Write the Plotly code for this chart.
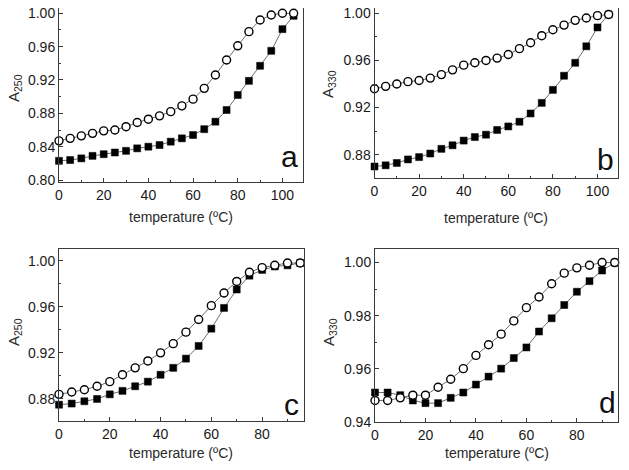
import plotly.graph_objects as go

# ---------------- data ----------------
temp_ab = [0, 5, 10, 15, 20, 25, 30, 35, 40, 45, 50, 55, 60, 65, 70, 75, 80, 85, 90, 95, 100, 105]
a_open = [0.847, 0.850, 0.853, 0.856, 0.859, 0.860, 0.864, 0.869, 0.873, 0.877, 0.882, 0.889,
          0.897, 0.910, 0.926, 0.944, 0.961, 0.978, 0.992, 0.998, 1.000, 1.000]
a_fill = [0.823, 0.824, 0.826, 0.829, 0.831, 0.833, 0.835, 0.838, 0.840, 0.842, 0.846, 0.850,
          0.854, 0.861, 0.870, 0.884, 0.902, 0.919, 0.937, 0.955, 0.981, 0.997]
b_open = [0.936, 0.938, 0.940, 0.942, 0.943, 0.945, 0.948, 0.952, 0.956, 0.958, 0.960, 0.962,
          0.965, 0.970, 0.975, 0.981, 0.986, 0.990, 0.994, 0.996, 0.998, 0.999]
b_fill = [0.870, 0.871, 0.873, 0.876, 0.878, 0.881, 0.885, 0.888, 0.892, 0.895, 0.897, 0.901,
          0.904, 0.908, 0.915, 0.924, 0.935, 0.947, 0.958, 0.972, 0.988, 0.999]

temp_cd = [0, 5, 10, 15, 20, 25, 30, 35, 40, 45, 50, 55, 60, 65, 70, 75, 80, 85, 90, 95]
c_open = [0.884, 0.886, 0.888, 0.891, 0.895, 0.901, 0.907, 0.913, 0.920, 0.928, 0.938, 0.949,
          0.961, 0.972, 0.982, 0.990, 0.994, 0.996, 0.998, 0.998]
c_fill = [0.875, 0.876, 0.878, 0.880, 0.884, 0.887, 0.891, 0.895, 0.901, 0.907, 0.915, 0.926,
          0.941, 0.959, 0.975, 0.987, 0.992, 0.995, 0.996, 0.998]
d_open = [0.948, 0.948, 0.949, 0.950, 0.950, 0.953, 0.956, 0.960, 0.965, 0.969, 0.973, 0.978,
          0.983, 0.987, 0.992, 0.996, 0.998, 0.999, 1.000, 1.000]
d_fill = [0.951, 0.951, 0.950, 0.948, 0.947, 0.947, 0.949, 0.951, 0.954, 0.957, 0.960, 0.964,
          0.968, 0.974, 0.979, 0.984, 0.989, 0.993, 0.997, 1.000]

x_title = "temperature (ºC)"
y_titles = ["A<sub>250</sub>", "A<sub>330</sub>", "A<sub>250</sub>", "A<sub>330</sub>"]
panel_letters = ["a", "b", "c", "d"]

# ---------------- figure ----------------
OFF = 8                      # the page body margin around the plot div
W, H = 629 - OFF, 470 - OFF  # keep the figure inside the window
FONT = "Liberation Sans, Arial, sans-serif"


def px(v):
    """window x pixel -> paper fraction"""
    return (v - OFF) / W


def py(v):
    """window y pixel -> paper fraction (clamped)"""
    return min(max(1 - (v - OFF) / H, 0.0), 1.0)


# frames in window pixels: (left, right), (top, bottom); letter: (glyph right, baseline);
# xt: x-title centre y; yt: (y-title centre x, centre y)
panels = [
    dict(x=temp_ab, o=a_open, f=a_fill, xd=(59, 303), yd=(8.3, 181.7), xr=[0, 109.2],
         yr=[0.798, 1.006], ydt=0.04, xdt=20, let=(297, 165), xt=217, yt=(14, 88)),
    dict(x=temp_ab, o=b_open, f=b_fill, xd=(374.5, 618), yd=(8.0, 177.7), xr=[0, 109.2],
         yr=[0.8605, 1.0045], ydt=0.04, xdt=20, let=(613, 168), xt=217.5, yt=(329, 84)),
    dict(x=temp_cd, o=c_open, f=c_fill, xd=(59, 303.5), yd=(249.3, 421.3), xr=[0, 96.3],
         yr=[0.8606, 1.0099], ydt=0.04, xdt=20, let=(298, 413), xt=453, yt=(14, 332)),
    dict(x=temp_cd, o=d_open, f=d_fill, xd=(375, 618), yd=(249.3, 421.7), xr=[0, 96.3],
         yr=[0.94, 1.005], ydt=0.02, xdt=20, let=(615, 411), xt=453, yt=(329, 332)),
]

fig = go.Figure()
layout = dict(
    width=W, height=H, margin=dict(l=0, r=0, t=0, b=0, autoexpand=False),
    paper_bgcolor="white", plot_bgcolor="white", showlegend=False,
    font=dict(family=FONT, color="#1a1a1a"),
)
annotations = []

line_col = "#6e6e6e"
for i, p in enumerate(panels):
    k = "" if i == 0 else str(i + 1)
    xa, ya = "x" + k, "y" + k
    fig.add_trace(go.Scatter(
        x=p["x"], y=p["f"], xaxis=xa, yaxis=ya, mode="lines+markers",
        line=dict(color=line_col, width=1),
        marker=dict(symbol="square", size=7, color="black", line=dict(color="black", width=0.5)),
        cliponaxis=False,
    ))
    fig.add_trace(go.Scatter(
        x=p["x"], y=p["o"], xaxis=xa, yaxis=ya, mode="lines+markers",
        line=dict(color=line_col, width=1),
        marker=dict(symbol="circle", size=8, color="white", line=dict(color="black", width=1.4)),
        cliponaxis=False,
    ))
    x0, x1 = p["xd"]
    y0, y1 = p["yd"]
    axcommon = dict(showline=True, linecolor="#3a3a3a", linewidth=1, mirror=True,
                    showgrid=False, zeroline=False, ticks="inside", ticklen=4,
                    tickcolor="#3a3a3a", tickwidth=1, automargin=False,
                    ticklabeloverflow="allow",
                    tickfont=dict(family=FONT, size=14, color="#1a1a1a"))
    layout["xaxis" + k] = dict(
        domain=[px(x0), px(x1)], range=p["xr"], anchor=ya, dtick=p["xdt"], tick0=0,
        minor=dict(ticks="inside", ticklen=2, dtick=p["xdt"] / 2, tick0=0, tickcolor="#3a3a3a"),
        **axcommon)
    layout["yaxis" + k] = dict(
        domain=[py(y1), py(y0)], range=p["yr"], anchor=xa, dtick=p["ydt"], tick0=0,
        tickformat=".2f",
        minor=dict(ticks="inside", ticklen=2, dtick=p["ydt"] / 2, tick0=0, tickcolor="#3a3a3a"),
        **axcommon)
    # axis titles
    annotations.append(dict(
        text=x_title, xref="paper", yref="paper",
        x=px((x0 + x1) / 2), y=py(p["xt"]), xanchor="center", yanchor="middle",
        showarrow=False, font=dict(family=FONT, size=14, color="#2a2a2a"),
    ))
    annotations.append(dict(
        text=y_titles[i], xref="paper", yref="paper", textangle=-90,
        x=px(p["yt"][0]), y=py(p["yt"][1]), xanchor="center", yanchor="middle",
        showarrow=False, font=dict(family=FONT, size=15, color="#2a2a2a"),
    ))
    # panel letter
    lx, lb = p["let"]
    annotations.append(dict(
        text=panel_letters[i], xref="paper", yref="paper",
        x=px(lx + 2), y=py(lb + 9),
        xanchor="right", yanchor="bottom", showarrow=False, borderpad=0,
        font=dict(family=FONT, size=30, color="#111111"),
    ))

layout["annotations"] = annotations
fig.update_layout(**layout)
fig.write_html("out.html")
